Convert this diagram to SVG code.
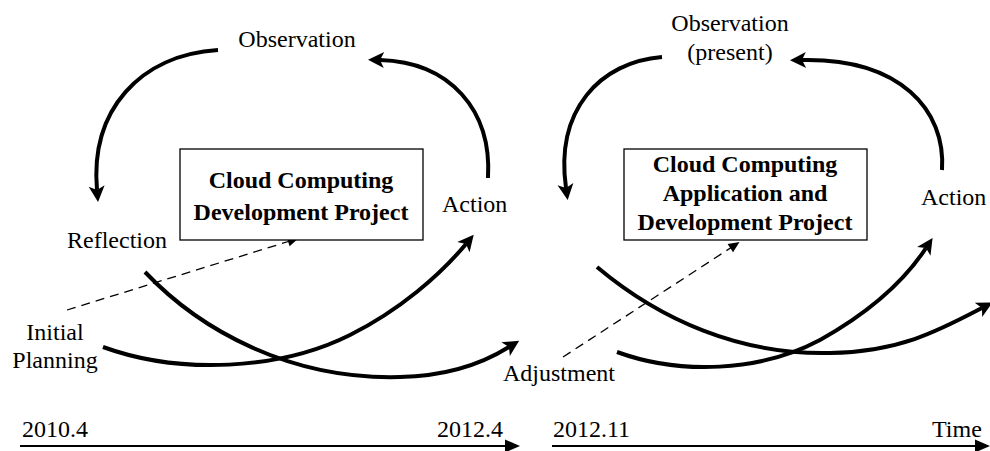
<svg xmlns="http://www.w3.org/2000/svg" width="990" height="451" viewBox="0 0 990 451">
<defs>
<style>
text{font-family:"Liberation Serif","Times New Roman",serif;font-size:24px;fill:#000}
.b{font-weight:bold;text-anchor:middle}
.c{text-anchor:middle}
.thick{fill:none;stroke:#000;stroke-width:4;marker-end:url(#ah)}
.dash{fill:none;stroke:#000;stroke-width:1.3;stroke-dasharray:9,6;marker-end:url(#ad)}
.time{fill:none;stroke:#000;stroke-width:2;marker-end:url(#at)}
.box{fill:#fff;stroke:#000;stroke-width:1.3}
</style>
<marker id="ah" markerUnits="userSpaceOnUse" markerWidth="18" markerHeight="18" refX="4" refY="8" orient="auto" overflow="visible"><path d="M0,0 L16,8 L0,16 L4,8 z" fill="#000"/></marker>
<marker id="ad" markerUnits="userSpaceOnUse" markerWidth="12" markerHeight="12" refX="2" refY="5" orient="auto" overflow="visible"><path d="M0,0 L11,5 L0,10 z" fill="#000"/></marker>
<marker id="at" markerUnits="userSpaceOnUse" markerWidth="16" markerHeight="14" refX="2" refY="6.5" orient="auto" overflow="visible"><path d="M0,0 L15,6.5 L0,13 z" fill="#000"/></marker>
</defs>
<rect width="990" height="451" fill="#fff"/>
<g id="connectors">
<path class="thick" d="M218,50 C140,55 90,110 97,190"/>
<path class="thick" d="M488,178 C492,110 450,62 380,60"/>
<path class="thick" d="M145,272 C200,330 290,380 400,377 C450,376 485,362 509,347"/>
<path class="thick" d="M103,347 C180,375 280,370 350,335 C400,310 440,275 466,244"/>
<path class="dash" d="M67,310 L290,241"/>
<path class="thick" d="M662,57 C600,62 555,110 566,188"/>
<path class="thick" d="M942,170 C946,110 900,58 802,60"/>
<path class="thick" d="M597,267 C660,320 740,355 830,353 C900,352 940,330 982,308"/>
<path class="thick" d="M617,352 C680,375 760,372 820,340 C870,312 905,280 926,248"/>
<path class="dash" d="M563,357 L732,247"/>
<path class="time" d="M20,446 L507,446"/>
<path class="time" d="M552,446 L977,446"/>
</g>
<g id="box1"><rect class="box" x="180" y="149" width="243" height="91"/><text class="b" x="301" y="188">Cloud Computing</text><text class="b" x="301" y="220">Development Project</text></g>
<g id="box2"><rect class="box" x="624" y="149" width="243" height="91"/><text class="b" x="745" y="172">Cloud Computing</text><text class="b" x="745" y="201">Application and</text><text class="b" x="745" y="230">Development Project</text></g>
<g id="observation1"><text class="c" x="297" y="47">Observation</text></g>
<g id="action1"><text x="442" y="212">Action</text></g>
<g id="reflection1"><text x="67" y="248">Reflection</text></g>
<g id="planning1"><text class="c" x="55" y="340">Initial</text><text class="c" x="55" y="368">Planning</text></g>
<g id="observation2"><text class="c" x="730" y="31">Observation</text><text class="c" x="730" y="60">(present)</text></g>
<g id="action2"><text x="921" y="205">Action</text></g>
<g id="adjustment2"><text x="503" y="381">Adjustment</text></g>
<g id="timeline"><text x="22" y="437">2010.4</text><text x="437" y="437">2012.4</text><text x="553" y="437">2012.11</text><text x="932" y="437">Time</text></g>
</svg>
